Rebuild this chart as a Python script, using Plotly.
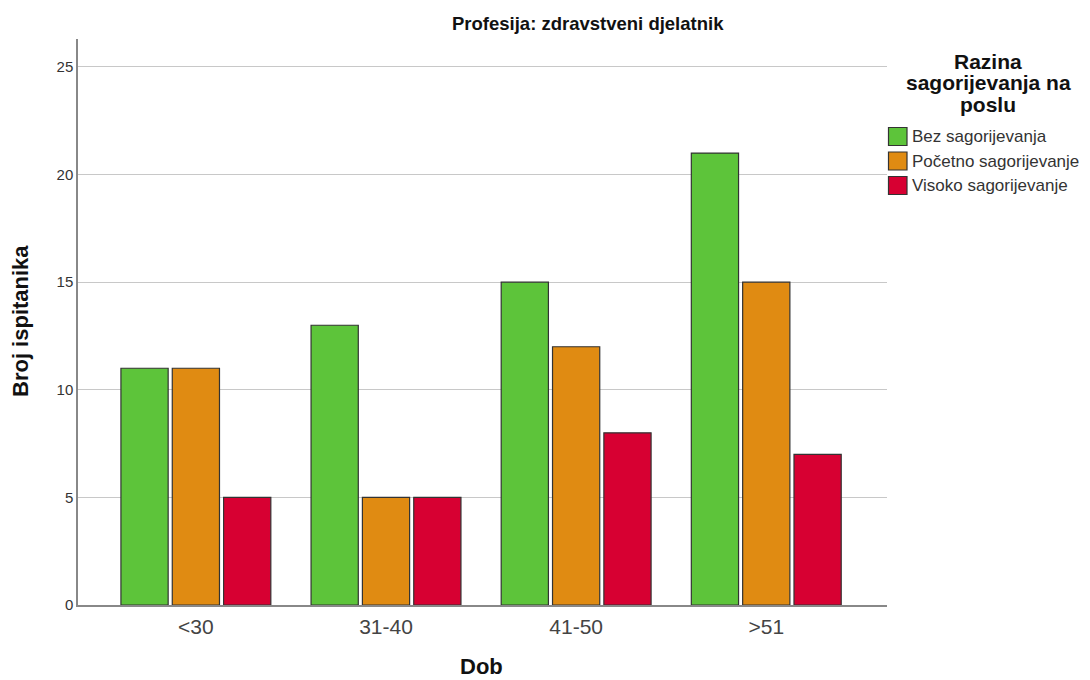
import plotly.graph_objects as go

categories = ["<30", "31-40", "41-50", ">51"]
bez = [11, 13, 15, 21]
pocetno = [11, 5, 12, 15]
visoko = [5, 5, 8, 7]
series_names = ["Bez sagorijevanja", "Početno sagorijevanje", "Visoko sagorijevanje"]
legend_title_lines = ["Razina", "sagorijevanja na", "poslu"]
colors = ["#5DC43A", "#E08B12", "#D70032"]

# page body offset (~7px) is compensated in the margins
L, T, R, B = 70, 31, 211, 83
PW, PH = 1090 - L - R, 680 - T - B
OFF = 7


def px_x(x):
    return (x - OFF - L) / PW


def px_y(y):
    return (680 - B - (y - OFF)) / PH


fig = go.Figure()
for name, vals, col in zip(series_names, [bez, pocetno, visoko], colors):
    fig.add_trace(go.Bar(
        x=categories, y=vals, name=name,
        marker=dict(color=col, line=dict(color="#333333", width=1.2)),
        showlegend=False,
    ))

fig.update_layout(
    width=1090, height=680,
    margin=dict(l=L, r=R, t=T, b=B, autoexpand=False),
    paper_bgcolor="white", plot_bgcolor="white",
    barmode="group", bargap=0.19, bargroupgap=0.08,
    font=dict(family="Liberation Sans, Arial, sans-serif", color="#222222"),
    xaxis=dict(
        range=[-0.62, 3.635], showline=True, linecolor="#888888", linewidth=1.5,
        ticks="outside", ticklen=2, tickcolor="rgba(0,0,0,0)", automargin=False,
        tickfont=dict(size=21, color="#444444"),
    ),
    yaxis=dict(
        range=[0, 26.3], showline=True, linecolor="#888888", linewidth=1.5,
        showgrid=True, gridcolor="#C8C8C8", gridwidth=1.3, automargin=False,
        tickvals=[0, 5, 10, 15, 20, 25], ticks="", ticklen=0,
        tickfont=dict(size=15, color="#333333"), zeroline=False,
    ),
)

# axis titles
fig.add_annotation(
    text="<b>Dob</b>", xref="paper", yref="paper",
    x=px_x(480), y=px_y(666), xanchor="center", yanchor="middle", showarrow=False,
    font=dict(size=22, color="#111111"),
)
fig.add_annotation(
    text="<b>Broj ispitanika</b>", xref="paper", yref="paper", textangle=-90,
    x=px_x(19), y=px_y(320), xanchor="center", yanchor="middle", showarrow=False,
    font=dict(size=22, color="#111111"),
)

fig.add_annotation(
    text="<b>Profesija: zdravstveni djelatnik</b>", xref="paper", yref="paper",
    x=px_x(587), y=px_y(22), yanchor="middle", showarrow=False,
    font=dict(size=18.5, color="#111111"),
)

# Legend title, one annotation per line for tight spacing
for i, line in enumerate(legend_title_lines):
    fig.add_annotation(
        text="<b>" + line + "</b>", xref="paper", yref="paper",
        x=px_x(987), y=px_y(60 + i * 21.5), xanchor="center", yanchor="middle",
        showarrow=False, font=dict(size=21, color="#111111"),
    )

for i, (name, col) in enumerate(zip(series_names, colors)):
    yc = 135.5 + i * 24.5
    fig.add_shape(type="rect", xref="paper", yref="paper",
                  x0=px_x(887.5), x1=px_x(906),
                  y0=px_y(yc + 9), y1=px_y(yc - 9),
                  fillcolor=col, line=dict(color="#333333", width=1.2))
    fig.add_annotation(text=name, xref="paper", yref="paper",
                       x=px_x(909), y=px_y(yc),
                       xanchor="left", yanchor="middle", showarrow=False,
                       font=dict(size=17, color="#333333"))

fig.write_html("out.html")
